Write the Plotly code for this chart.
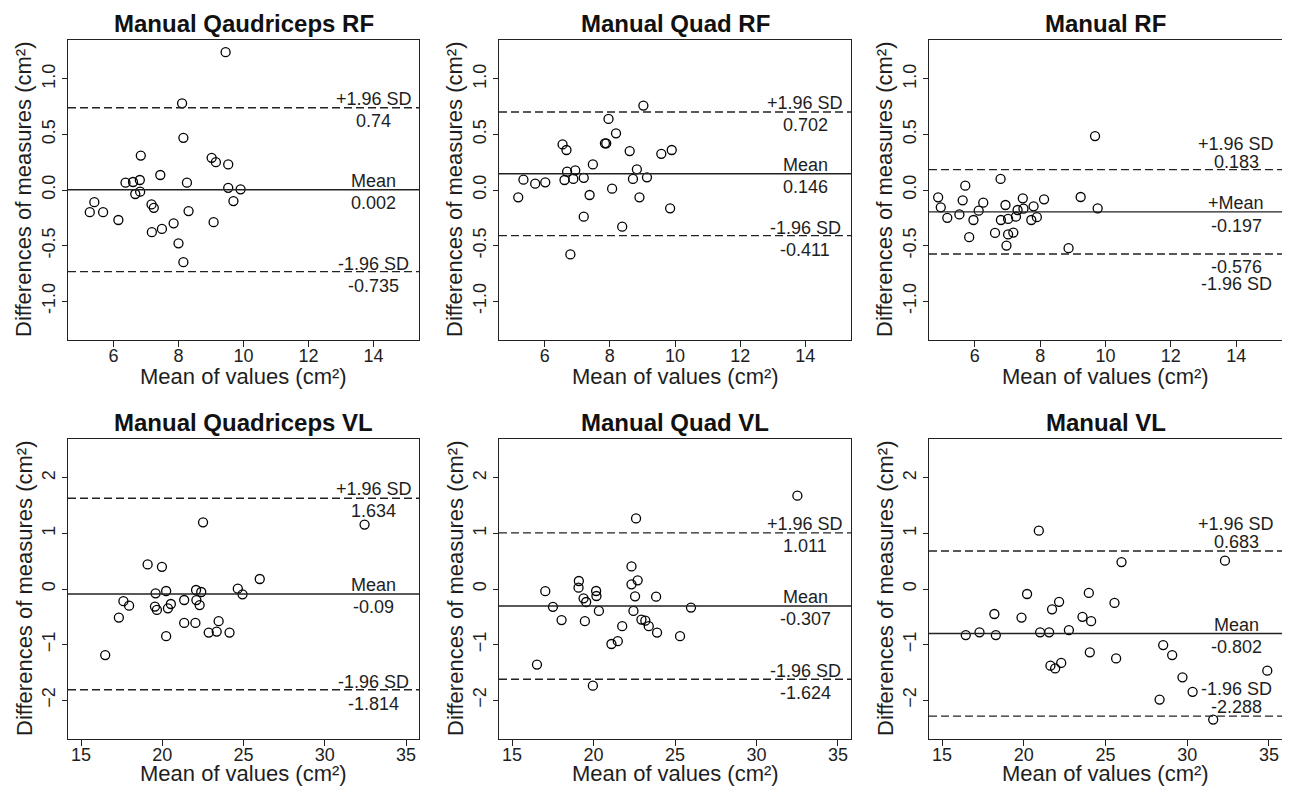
import plotly.graph_objects as go

# the page puts the figure 8px in from the top-left corner
OFF = 8
W, H = 1290 - 2 * OFF, 794 - 2 * OFF

# ---- data ----
titles = ["Manual Qaudriceps RF", "Manual Quad RF", "Manual RF",
          "Manual Quadriceps VL", "Manual Quad VL", "Manual VL"]

qaud_rf_x = [5.27, 5.41, 5.68, 6.15, 6.37, 6.60, 6.67, 6.81, 6.82, 6.84, 7.17, 7.24, 7.18, 7.44, 7.49,
             7.85, 8.00, 8.11, 8.15, 8.15, 8.26, 8.31, 9.02, 9.15, 9.08, 9.45, 9.53, 9.53, 9.69, 9.91]
qaud_rf_y = [-0.20, -0.11, -0.20, -0.27, 0.066, 0.072, -0.036, 0.09, -0.015, 0.31, -0.13, -0.16, -0.38, 0.135, -0.35,
             -0.30, -0.48, 0.78, 0.47, -0.65, 0.066, -0.19, 0.29, 0.25, -0.29, 1.24, 0.23, 0.02, -0.10, 0.006]

quad_rf_x = [5.19, 5.35, 5.71, 6.02, 6.55, 6.67, 6.61, 6.69, 6.79, 6.88, 6.94, 7.20, 7.20, 7.38, 7.48,
             7.85, 7.89, 7.96, 8.07, 8.19, 8.38, 8.61, 8.71, 8.83, 8.91, 9.03, 9.14, 9.58, 9.90, 9.85]
quad_rf_y = [-0.066, 0.093, 0.057, 0.069, 0.41, 0.36, 0.09, 0.165, -0.58, 0.10, 0.177, 0.11, -0.24, -0.045, 0.23,
             0.42, 0.42, 0.64, 0.012, 0.51, -0.33, 0.35, 0.10, 0.186, -0.066, 0.76, 0.114, 0.326, 0.36, -0.165]

man_rf_x = [4.88, 4.96, 5.16, 5.53, 5.63, 5.71, 5.83, 5.96, 6.12, 6.26, 6.62, 6.79, 6.80, 6.94, 6.97,
            7.02, 7.02, 7.18, 7.26, 7.31, 7.47, 7.49, 7.73, 7.80, 7.90, 8.12, 8.87, 9.24, 9.68, 9.76]
man_rf_y = [-0.066, -0.156, -0.25, -0.22, -0.093, 0.039, -0.425, -0.27, -0.186, -0.114, -0.386, 0.10, -0.27, -0.135, -0.50,
            -0.26, -0.40, -0.383, -0.24, -0.18, -0.075, -0.168, -0.27, -0.147, -0.245, -0.084, -0.524, -0.063, 0.485, -0.165]

quadr_vl_x = [16.49, 17.33, 17.61, 17.96, 19.10, 19.59, 19.55, 19.67, 19.98, 20.24, 20.24, 20.35, 20.53, 21.35, 21.35,
              22.04, 22.08, 22.10, 22.30, 22.40, 22.51, 22.86, 23.35, 23.47, 24.14, 24.65, 24.94, 26.0, 32.45]
quadr_vl_y = [-1.19, -0.515, -0.22, -0.30, 0.443, -0.078, -0.317, -0.377, 0.40, -0.036, -0.85, -0.347, -0.27, -0.198, -0.61,
              -0.61, -0.018, -0.20, -0.29, -0.054, 1.20, -0.784, -0.766, -0.58, -0.784, 0.006, -0.096, 0.18, 1.16]

quad_vl_x = [16.53, 17.04, 17.51, 18.04, 19.10, 19.08, 19.39, 19.47, 19.55, 20.16, 20.18, 19.96, 20.33, 21.10, 21.49,
             21.76, 22.33, 22.33, 22.45, 22.55, 22.61, 22.71, 22.94, 23.18, 23.39, 23.84, 23.90, 25.31, 25.98, 32.51]
quad_vl_y = [-1.36, -0.04, -0.32, -0.56, 0.144, 0.024, -0.168, -0.58, -0.234, -0.036, -0.126, -1.74, -0.395, -0.99, -0.94,
             -0.67, 0.407, 0.084, -0.395, -0.132, 1.27, 0.156, -0.55, -0.57, -0.67, -0.138, -0.784, -0.85, -0.335, 1.68]

man_vl_x = [16.45, 17.29, 18.20, 18.29, 19.86, 20.20, 20.92, 21.00, 21.55, 21.73, 21.63, 21.92, 22.16, 22.29, 22.76,
            23.59, 23.98, 24.12, 24.04, 25.55, 25.65, 25.98, 28.31, 28.53, 29.08, 29.71, 30.33, 31.59, 32.31, 34.90]
man_vl_y = [-0.83, -0.78, -0.45, -0.83, -0.515, -0.09, 1.05, -0.78, -0.78, -0.365, -1.38, -1.43, -0.23, -1.33, -0.74,
            -0.50, -0.07, -0.58, -1.14, -0.25, -1.25, 0.485, -1.99, -1.01, -1.19, -1.59, -1.85, -2.35, 0.51, -1.47]

mean_diff = [0.002, 0.146, -0.197, -0.09, -0.307, -0.802]
upper_loa = [0.74, 0.702, 0.183, 1.634, 1.011, 0.683]
lower_loa = [-0.735, -0.411, -0.576, -1.814, -1.624, -2.288]
mean_labels = ["Mean", "Mean", "+Mean", "Mean", "Mean", "Mean"]

rf_ticks = [-1.0, -0.5, 0.0, 0.5, 1.0]
rf_tick_text = ["-1.0", "-0.5", "0.0", "0.5", "1.0"]
vl_ticks = [-2, -1, 0, 1, 2]
rf_xticks = [6, 8, 10, 12, 14]
vl_xticks = [15, 20, 25, 30, 35]

xs = [qaud_rf_x, quad_rf_x, man_rf_x, quadr_vl_x, quad_vl_x, man_vl_x]
ys = [qaud_rf_y, quad_rf_y, man_rf_y, quadr_vl_y, quad_vl_y, man_vl_y]

# ---- pixel boxes of each plot area (screen px) ----
boxes = [(68, 419, 40, 340), (499, 851, 40, 340), (929, 1282, 40, 340),
         (68, 419, 439, 739), (499, 851, 439, 739), (929, 1282, 439, 739)]


def px(x):
    return (x - OFF) / W


def py(y):
    return 1 - (y - OFF) / H


FONT = "Liberation Sans, Arial, sans-serif"
TXT = "#1e1e1e"

fig = go.Figure()
anns = []
shapes = []

# label offsets in px (above/below line)
default_off = {"up": (9, -13), "mean": (9, -13), "lo": (8, -14)}
special_off = {
    2: {"up": (26, 8), "mean": (9, -14), "lo": (-30, -13)},
    5: {"up": (27, 9), "mean": (9, -13), "lo": (27, 9)},
}

for i in range(6):
    k = "" if i == 0 else str(i + 1)
    l, r, t, b = boxes[i]
    top_row = i < 3
    xr = [4.6, 15.4] if top_row else [14.2, 35.8]
    yr = [-1.35, 1.35] if top_row else [-2.7, 2.7]
    lab_x = 14 if top_row else 33

    fig.add_trace(go.Scatter(
        x=xs[i], y=ys[i], mode="markers", xaxis="x" + k, yaxis="y" + k,
        marker=dict(symbol="circle-open", size=9, color="black", line=dict(width=1.3, color="black")),
        showlegend=False, hoverinfo="x+y"))

    ax = dict(domain=[px(l), px(r)], range=xr, anchor="y" + k, automargin=False,
              tickvals=rf_xticks if top_row else vl_xticks,
              showline=True, mirror=True, linecolor="#222", linewidth=1.4,
              ticks="outside", ticklen=6, tickwidth=1.2, tickcolor="#222",
              ticklabelstandoff=-7,
              showgrid=False, zeroline=False,
              tickfont=dict(family=FONT, size=18, color=TXT))
    ay = dict(domain=[py(b), py(t)], range=yr, anchor="x" + k, automargin=False,
              tickvals=rf_ticks if top_row else vl_ticks,
              ticktext=rf_tick_text if top_row else None,
              tickangle=-90,
              showline=True, mirror=True, linecolor="#222", linewidth=1.4,
              ticks="outside", ticklen=5, tickwidth=1.2, tickcolor="#222",
              showgrid=False, zeroline=False,
              tickfont=dict(family=FONT, size=18, color=TXT))
    fig.update_layout({"xaxis" + k: ax, "yaxis" + k: ay})

    # reference lines
    for val, dash in [(upper_loa[i], "8px,4px"), (mean_diff[i], "solid"), (lower_loa[i], "8px,4px")]:
        shapes.append(dict(type="line", xref="x" + k + " domain", yref="y" + k,
                           x0=0, x1=1, y0=val, y1=val,
                           line=dict(color="#222", width=1.4, dash=dash)))

    off = special_off.get(i, default_off)
    items = [("+1.96 SD", upper_loa[i], off["up"][0]), (f"{upper_loa[i]:g}", upper_loa[i], off["up"][1]),
             (mean_labels[i], mean_diff[i], off["mean"][0]), (f"{mean_diff[i]:g}", mean_diff[i], off["mean"][1]),
             ("-1.96 SD", lower_loa[i], off["lo"][0]), (f"{lower_loa[i]:g}", lower_loa[i], off["lo"][1])]
    for txt, val, dy in items:
        anns.append(dict(x=lab_x, y=val, xref="x" + k, yref="y" + k, text=txt, showarrow=False,
                         xanchor="center", yanchor="middle", yshift=dy,
                         font=dict(family=FONT, size=18, color=TXT)))

    # panel title and axis titles
    cx = px((l + r) / 2)
    anns.append(dict(x=cx, y=py(t - 17), xref="paper", yref="paper", text="<b>" + titles[i] + "</b>",
                     showarrow=False, xanchor="center", yanchor="middle",
                     font=dict(family=FONT, size=24, color="#111")))
    anns.append(dict(x=cx, y=py(b + (36 if top_row else 34)), xref="paper", yref="paper",
                     text="Mean of values (cm²)",
                     showarrow=False, xanchor="center", yanchor="middle",
                     font=dict(family=FONT, size=22, color=TXT)))
    anns.append(dict(x=px(l - 44), y=py((t + b) / 2), xref="paper", yref="paper",
                     text="Differences of measures (cm²)", textangle=-90,
                     showarrow=False, xanchor="center", yanchor="middle",
                     font=dict(family=FONT, size=22, color=TXT)))

fig.update_layout(width=W, height=H, margin=dict(l=0, r=0, t=0, b=0),
                  plot_bgcolor="white", paper_bgcolor="white",
                  annotations=anns, shapes=shapes, font=dict(family=FONT))

fig.write_html("out.html")
